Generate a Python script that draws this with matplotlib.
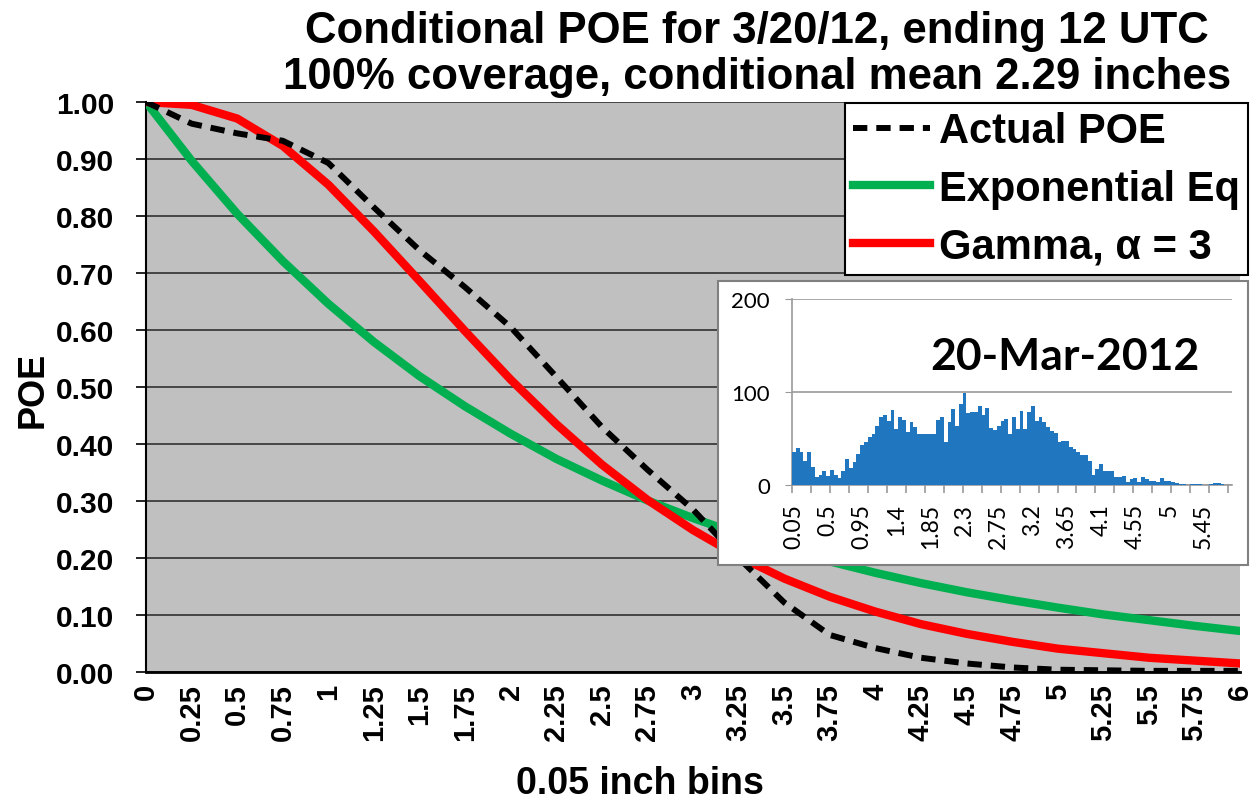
import numpy as np
import matplotlib.pyplot as plt
from matplotlib.patches import Rectangle

plt.rcParams['font.family'] = ['Liberation Sans', 'DejaVu Sans']

# POE curves, read every 0.25 inch
bins = [0, 0.25, 0.5, 0.75, 1, 1.25, 1.5, 1.75, 2, 2.25, 2.5, 2.75, 3,
        3.25, 3.5, 3.75, 4, 4.25, 4.5, 4.75, 5, 5.25, 5.5, 5.75, 6]
actual = [1.00, 0.962, 0.945, 0.932, 0.893, 0.815, 0.74, 0.675, 0.605, 0.518,
          0.43, 0.355, 0.285, 0.20, 0.122, 0.065, 0.042, 0.025, 0.015, 0.008,
          0.004, 0.003, 0.002, 0.002, 0.002]
expo = [1.000, 0.897, 0.804, 0.721, 0.646, 0.579, 0.519, 0.466, 0.418, 0.374,
        0.336, 0.301, 0.270, 0.242, 0.217, 0.194, 0.174, 0.156, 0.140, 0.126,
        0.113, 0.101, 0.091, 0.081, 0.072]
gamma = [1.000, 0.995, 0.971, 0.923, 0.855, 0.773, 0.686, 0.598, 0.513, 0.435,
         0.364, 0.302, 0.249, 0.203, 0.164, 0.132, 0.106, 0.084, 0.067, 0.053,
         0.041, 0.033, 0.025, 0.020, 0.015]
xtick_labels = ['0', '0.25', '0.5', '0.75', '1', '1.25', '1.5', '1.75', '2',
                '2.25', '2.5', '2.75', '3', '3.25', '3.5', '3.75', '4', '4.25',
                '4.5', '4.75', '5', '5.25', '5.5', '5.75', '6']

# inset histogram, 0.05 inch bins starting at 0.05
hist_counts = [35, 40, 35, 25, 35, 19, 8, 10, 15, 9, 16, 10, 7, 15, 28, 18, 24,
               33, 43, 46, 51, 54, 63, 73, 75, 69, 80, 60, 73, 70, 57, 67, 62,
               54, 54, 54, 54, 54, 70, 73, 46, 67, 81, 63, 87, 99, 77, 78, 78,
               85, 75, 83, 61, 59, 63, 68, 71, 54, 73, 60, 79, 60, 78, 85, 68,
               73, 67, 62, 58, 56, 46, 47, 47, 41, 38, 35, 32, 32, 26, 10, 17,
               22, 15, 15, 15, 8, 8, 9, 3, 6, 7, 3, 8, 6, 4, 4, 3, 7, 4, 4, 3,
               2, 1, 0.5, 0, 1, 1, 0.5, 0, 0, 0.5, 2, 1.5, 0.5, 0, 0]
hist_labels = ['0.05', '0.5', '0.95', '1.4', '1.85', '2.3', '2.75', '3.2',
               '3.65', '4.1', '4.55', '5', '5.45']

W, H = 1259, 804
fig = plt.figure(figsize=(W / 100, H / 100), dpi=100)

ax = fig.add_axes([146 / W, 1 - 673 / H, (1240 - 146) / W, (673 - 103) / H])
ax.set_facecolor('#c0c0c0')

ax.plot(bins, expo, color='#00b050', lw=6, label='Exponential Eq', zorder=3)
ax.plot(bins, gamma, color='#ff0000', lw=6, label='Gamma, \u03b1 = 3', zorder=4)
ax.plot(bins, actual, color='black', lw=4.3, dashes=(2.4, 1.5),
        label='Actual POE', zorder=5)

ax.set_xlim(0, 6)
ax.set_ylim(0, 1)
ax.set_yticks(np.arange(0, 1.01, 0.1))
ax.set_yticklabels(['%.2f' % v for v in np.arange(0, 1.01, 0.1)],
                   fontsize=21.5, fontweight='bold')
ax.yaxis.grid(True, color='#303030', lw=1.2)
ax.set_axisbelow(True)
ax.tick_params(axis='y', length=7, width=1.2, pad=16)

ax.set_xticks(bins)
ax.set_xticklabels(xtick_labels, rotation=90, fontsize=21, fontweight='bold',
                   va='top', ha='center')
ax.set_xticks([0, 1, 2, 3, 4, 5, 6], minor=True)
ax.tick_params(axis='x', which='major', length=0, pad=8)
ax.tick_params(axis='x', which='minor', length=7, width=1.2)

for s in ['top', 'right']:
    ax.spines[s].set_visible(False)
ax.spines['left'].set_linewidth(1.5)
ax.spines['bottom'].set_linewidth(2)

handles, labels = ax.get_legend_handles_labels()
order = [2, 0, 1]
leg = ax.legend([handles[i] for i in order], [labels[i] for i in order],
                loc='upper right', bbox_to_anchor=(1248 / W, 1 - 104 / H),
                bbox_transform=fig.transFigure,
                prop={'size': 30, 'weight': 'bold'}, fancybox=False,
                edgecolor='black', framealpha=1, handlelength=1.85,
                handletextpad=0.2, borderpad=0.2, labelspacing=0.42,
                borderaxespad=0)
leg.get_frame().set_linewidth(1.5)

fig.text(757 / W, 1 - 32 / H, 'Conditional POE for 3/20/12, ending 12 UTC',
         ha='center', va='center', fontsize=31.5, fontweight='bold')
fig.text(757 / W, 1 - 77 / H, '100% coverage, conditional mean 2.29 inches',
         ha='center', va='center', fontsize=31.5, fontweight='bold')
fig.text(33 / W, 1 - 390 / H, 'POE', rotation=90, ha='center', va='center',
         fontsize=26, fontweight='bold')
fig.text(640 / W, 1 - 784 / H, '0.05 inch bins', ha='center', va='center',
         fontsize=27, fontweight='bold')

# inset frame and histogram
frame = Rectangle((718 / W, 1 - 566 / H), 530 / W, 284 / H,
                  transform=fig.transFigure, facecolor='white',
                  edgecolor='#808080', lw=1.5, zorder=5)
fig.add_artist(frame)

iax = fig.add_axes([792 / W, 1 - 485.7 / H, 440 / W, 186 / H], zorder=6)
iax.set_facecolor('none')
idx = np.arange(len(hist_counts))
iax.bar(idx, hist_counts, width=1.0, color='#2077bf', zorder=3)
iax.set_xlim(-0.5, 115.5)
iax.set_ylim(0, 200)
iax.set_yticks([0, 100, 200])
iax.set_yticklabels(['0', '100', '200'], fontsize=16, family='Lato')
iax.yaxis.grid(True, color='#999999', lw=1.2)
iax.set_axisbelow(True)
iax.tick_params(axis='y', length=5, color='#999999', pad=11)

iax.set_xticks(idx[::9])
iax.set_xticklabels(hist_labels, rotation=90, fontsize=16.5, family='Lato',
                    va='top', ha='center')
iax.set_xticks(np.arange(-0.5, 116, 5), minor=True)
iax.tick_params(axis='x', which='major', length=0, pad=13)
iax.tick_params(axis='x', which='minor', length=6, color='#999999', width=1.2)
for s in ['top', 'right']:
    iax.spines[s].set_visible(False)
for s in ['left', 'bottom']:
    iax.spines[s].set_color('#999999')
    iax.spines[s].set_linewidth(1.2)

iax.text(0.62, 0.69, '20-Mar-2012', transform=iax.transAxes, ha='center',
         va='center', fontsize=32, fontweight='bold', family='Lato')

fig.savefig('out.png', dpi=100)
